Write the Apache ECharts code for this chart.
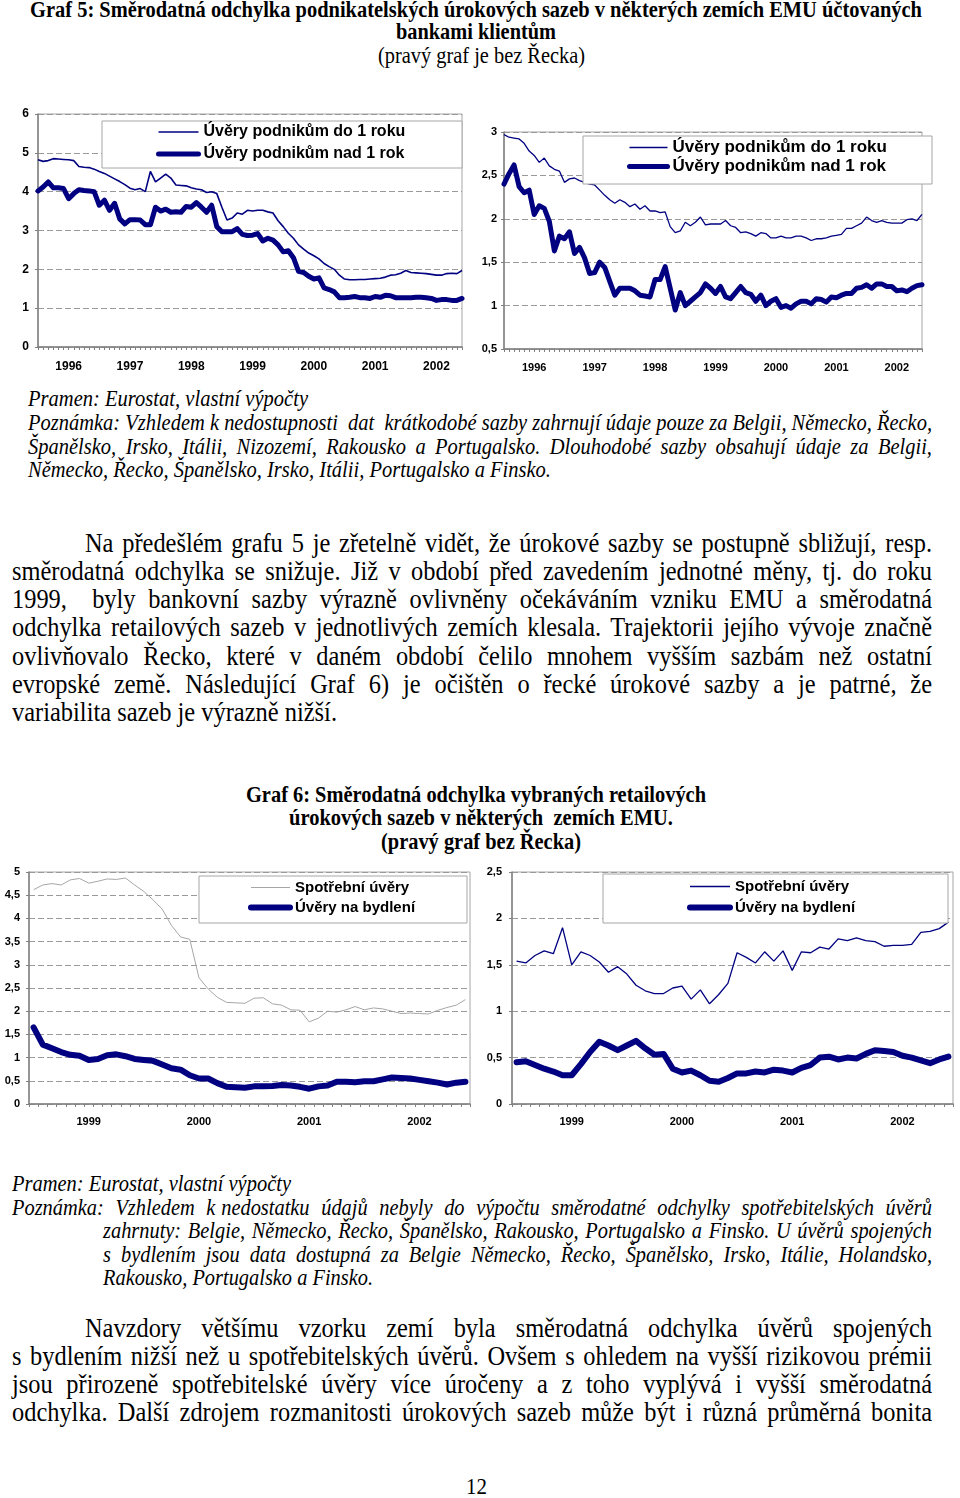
<!DOCTYPE html>
<html><head><meta charset="utf-8">
<script src="https://cdn.jsdelivr.net/npm/echarts@6/dist/echarts.min.js"></script>
<style>
html,body{margin:0;padding:0;background:#fff;}
body{width:960px;height:1498px;position:relative;overflow:hidden;font-family:"Liberation Serif","Times New Roman",serif;color:#000;}
.ln{position:absolute;white-space:nowrap;transform-origin:50% 50%;}
.ln>span{display:inline-block;white-space:nowrap;transform-origin:0 50%;}
.b{font-weight:bold;}
.i{font-style:italic;}
.chart{position:absolute;}
</style></head><body>

<div class="ln b" data-g="t5a" data-ref="1" data-x="30" data-y="9" data-w="892" data-s="19"><span>Graf 5: Směrodatná odchylka podnikatelských úrokových sazeb v některých zemích EMU účtovaných</span></div>
<div class="ln b" data-g="t5a" data-ref="1" data-x="396" data-y="31" data-w="160" data-s="19"><span>bankami klientům</span></div>
<div class="ln" data-g="t5b" data-ref="1" data-x="378" data-y="55" data-w="207" data-s="19"><span>(pravý graf je bez Řecka)</span></div>

<div class="ln i" data-g="n1" data-ref="1" data-x="28" data-y="398" data-w="280" data-s="18"><span>Pramen: Eurostat, vlastní výpočty</span></div>
<div class="ln i j" data-g="n1" data-x="28" data-y="422" data-w="904" data-s="18"><span>Poznámka: Vzhledem k nedostupnosti&nbsp; dat&nbsp; krátkodobé sazby zahrnují údaje pouze za Belgii, Německo, Řecko,</span></div>
<div class="ln i j" data-g="n1" data-x="28" data-y="446" data-w="904" data-s="18"><span>Španělsko, Irsko, Itálii, Nizozemí, Rakousko a Portugalsko. Dlouhodobé sazby obsahují údaje za Belgii,</span></div>
<div class="ln i" data-g="n1" data-ref="1" data-x="28" data-y="469" data-w="523" data-s="18"><span>Německo, Řecko, Španělsko, Irsko, Itálii, Portugalsko a Finsko.</span></div>

<div class="ln j" data-g="p1" data-x="85" data-y="543" data-w="847" data-s="20"><span>Na předešlém grafu 5 je zřetelně vidět, že úrokové sazby se postupně sbližují, resp.</span></div>
<div class="ln j" data-g="p1" data-x="12" data-y="571" data-w="920" data-s="20"><span>směrodatná odchylka se snižuje. Již v období před zavedením jednotné měny, tj. do roku</span></div>
<div class="ln j" data-g="p1" data-x="12" data-y="599" data-w="920" data-s="20"><span>1999,&nbsp; byly bankovní sazby výrazně ovlivněny očekáváním vzniku EMU a směrodatná</span></div>
<div class="ln j" data-g="p1" data-x="12" data-y="627" data-w="920" data-s="20"><span>odchylka retailových sazeb v jednotlivých zemích klesala. Trajektorii jejího vývoje značně</span></div>
<div class="ln j" data-g="p1" data-x="12" data-y="656" data-w="920" data-s="20"><span>ovlivňovalo Řecko, které v daném období čelilo mnohem vyšším sazbám než ostatní</span></div>
<div class="ln j" data-g="p1" data-x="12" data-y="684" data-w="920" data-s="20"><span>evropské země. Následující Graf 6) je očištěn o řecké úrokové sazby a je patrné, že</span></div>
<div class="ln" data-g="p1" data-ref="1" data-x="12" data-y="712" data-w="325" data-s="20"><span>variabilita sazeb je výrazně nižší.</span></div>

<div class="ln b" data-g="t6" data-ref="1" data-x="246" data-y="794" data-w="460" data-s="19"><span>Graf 6: Směrodatná odchylka vybraných retailových</span></div>
<div class="ln b" data-g="t6" data-ref="1" data-x="289" data-y="817" data-w="384" data-s="19"><span>úrokových sazeb v některých&nbsp; zemích EMU.</span></div>
<div class="ln b" data-g="t6" data-ref="1" data-x="381" data-y="841" data-w="200" data-s="19"><span>(pravý graf bez Řecka)</span></div>

<div class="ln i" data-g="n2" data-ref="1" data-x="12" data-y="1183" data-w="279" data-s="18"><span>Pramen: Eurostat, vlastní výpočty</span></div>
<div class="ln i j" data-g="n2" data-x="12" data-y="1207" data-w="920" data-s="18"><span>Poznámka:&nbsp; Vzhledem&nbsp; k nedostatku&nbsp; údajů&nbsp; nebyly&nbsp; do&nbsp; výpočtu&nbsp; směrodatné&nbsp; odchylky&nbsp; spotřebitelských&nbsp; úvěrů</span></div>
<div class="ln i j" data-g="n2" data-x="103" data-y="1230" data-w="829" data-s="18"><span>zahrnuty: Belgie, Německo, Řecko, Španělsko, Rakousko, Portugalsko a Finsko. U úvěrů spojených</span></div>
<div class="ln i j" data-g="n2" data-x="103" data-y="1254" data-w="829" data-s="18"><span>s bydlením jsou data dostupná za Belgie Německo, Řecko, Španělsko, Irsko, Itálie, Holandsko,</span></div>
<div class="ln i" data-g="n2" data-ref="1" data-x="103" data-y="1277" data-w="270" data-s="18"><span>Rakousko, Portugalsko a Finsko.</span></div>

<div class="ln j" data-g="p2" data-alt="p1" data-x="85" data-y="1328" data-w="847" data-s="20"><span>Navzdory většímu vzorku zemí byla směrodatná odchylka úvěrů spojených</span></div>
<div class="ln j" data-g="p2" data-alt="p1" data-x="12" data-y="1356" data-w="920" data-s="20"><span>s bydlením nižší než u spotřebitelských úvěrů. Ovšem s ohledem na vyšší rizikovou prémii</span></div>
<div class="ln j" data-g="p2" data-alt="p1" data-x="12" data-y="1384" data-w="920" data-s="20"><span>jsou přirozeně spotřebitelské úvěry více úročeny a z toho vyplývá i vyšší směrodatná</span></div>
<div class="ln j" data-g="p2" data-alt="p1" data-x="12" data-y="1412" data-w="920" data-s="20"><span>odchylka. Další zdrojem rozmanitosti úrokových sazeb může být i různá průměrná bonita</span></div>

<div class="ln" data-g="pg" data-ref="1" data-x="466" data-y="1486" data-w="21" data-s="20"><span>12</span></div>

<div id="c1" class="chart" style="left:0px;top:100px;width:475px;height:285px;"></div>
<div id="c2" class="chart" style="left:470px;top:120px;width:490px;height:265px;"></div>
<div id="c3" class="chart" style="left:0px;top:860px;width:480px;height:275px;"></div>
<div id="c4" class="chart" style="left:480px;top:860px;width:480px;height:275px;"></div>

<script>
// ---------- data ----------
const yearsA = ['1996','1997','1998','1999','2000','2001','2002'];
const yearsB = ['1999','2000','2001','2002'];

// Graf 5 left (all countries)
const g5L_short = [4.82,4.78,4.80,4.85,4.84,4.83,4.82,4.80,4.65,4.63,4.62,4.58,
 4.52,4.47,4.40,4.33,4.26,4.18,4.09,4.05,4.08,4.00,4.52,4.25,
 4.35,4.45,4.35,4.17,4.16,4.15,4.10,4.07,4.05,3.98,4.00,3.95,
 3.60,3.27,3.32,3.45,3.42,3.52,3.50,3.52,3.52,3.48,3.45,3.25,
 3.10,2.93,2.80,2.63,2.52,2.42,2.35,2.27,2.15,2.07,2.00,1.85,
 1.75,1.73,1.73,1.74,1.74,1.75,1.76,1.77,1.80,1.85,1.86,1.90,
 1.97,1.92,1.91,1.90,1.89,1.87,1.85,1.85,1.89,1.90,1.89,1.97];
const g5L_long = [4.02,4.12,4.25,4.10,4.10,4.08,3.82,3.95,4.05,4.03,4.02,4.00,
 3.65,3.78,3.52,3.70,3.30,3.17,3.28,3.28,3.27,3.15,3.15,3.60,
 3.50,3.55,3.47,3.48,3.47,3.62,3.60,3.72,3.60,3.47,3.65,3.10,
 2.97,2.97,2.97,3.05,2.90,2.87,2.88,2.92,2.73,2.80,2.75,2.63,
 2.45,2.48,2.30,1.95,1.92,1.82,1.75,1.78,1.52,1.48,1.42,1.27,
 1.27,1.28,1.30,1.27,1.27,1.25,1.30,1.28,1.33,1.32,1.27,1.27,
 1.27,1.27,1.28,1.28,1.27,1.25,1.20,1.22,1.22,1.20,1.20,1.25];

// Graf 5 right (without Greece)
const g5R_short = [2.97,2.94,2.93,2.92,2.87,2.78,2.73,2.65,2.70,2.61,2.57,2.55,
 2.42,2.46,2.47,2.44,2.42,2.40,2.39,2.33,2.27,2.22,2.18,2.22,
 2.19,2.14,2.17,2.11,2.15,2.09,2.09,2.07,2.08,1.91,1.84,1.86,
 1.96,1.92,1.96,2.02,1.93,1.94,1.94,1.94,1.98,1.92,1.90,1.84,
 1.85,1.83,1.80,1.84,1.83,1.78,1.78,1.80,1.78,1.78,1.80,1.80,
 1.78,1.75,1.77,1.77,1.78,1.80,1.81,1.82,1.89,1.89,1.92,1.95,
 2.02,1.98,1.96,1.98,1.96,1.95,1.95,1.95,1.99,2.00,1.98,2.05];
const g5R_long = [2.40,2.52,2.62,2.37,2.30,2.33,2.05,2.15,2.12,1.97,1.63,1.80,
 1.77,1.85,1.60,1.67,1.55,1.37,1.38,1.50,1.44,1.28,1.12,1.20,
 1.20,1.20,1.17,1.12,1.11,1.10,1.30,1.30,1.45,1.20,0.95,1.15,
 1.00,1.05,1.10,1.15,1.25,1.20,1.14,1.22,1.10,1.08,1.15,1.22,
 1.15,1.13,1.05,1.12,1.00,1.05,1.08,0.98,1.00,0.97,1.02,1.05,
 1.05,1.02,1.08,1.07,1.04,1.10,1.09,1.12,1.14,1.14,1.20,1.21,
 1.24,1.20,1.25,1.25,1.22,1.22,1.17,1.18,1.16,1.20,1.23,1.24];

// Graf 6 left
const g6L_cons = [4.62,4.72,4.75,4.72,4.83,4.86,4.76,4.80,4.85,4.84,4.87,4.72,
 4.58,4.40,4.20,3.85,3.60,3.55,2.72,2.48,2.30,2.19,2.18,2.17,
 2.28,2.29,2.16,2.13,2.03,2.02,1.77,1.85,2.00,1.98,2.03,2.10,
 2.03,2.07,2.05,2.00,1.95,1.96,1.95,1.94,2.02,2.08,2.13,2.25];
const g6L_house = [1.65,1.28,1.20,1.12,1.06,1.04,0.95,0.97,1.05,1.07,1.03,0.97,
 0.95,0.93,0.85,0.77,0.74,0.62,0.55,0.55,0.45,0.37,0.36,0.35,
 0.38,0.38,0.39,0.41,0.40,0.37,0.33,0.38,0.40,0.48,0.48,0.47,
 0.49,0.49,0.53,0.57,0.56,0.55,0.52,0.49,0.46,0.42,0.46,0.48];

// Graf 6 right (without Greece)
const g6R_cons = [1.54,1.52,1.60,1.65,1.62,1.90,1.50,1.64,1.60,1.53,1.42,1.48,
 1.40,1.28,1.22,1.19,1.19,1.25,1.27,1.13,1.23,1.08,1.18,1.30,
 1.63,1.58,1.52,1.64,1.54,1.65,1.44,1.64,1.63,1.69,1.67,1.78,
 1.76,1.79,1.76,1.75,1.70,1.71,1.71,1.72,1.85,1.86,1.89,1.96];
const g6R_house = [0.45,0.46,0.42,0.38,0.35,0.31,0.31,0.43,0.56,0.67,0.63,0.58,
 0.63,0.68,0.60,0.53,0.54,0.38,0.34,0.36,0.31,0.25,0.24,0.28,
 0.33,0.33,0.35,0.34,0.37,0.36,0.34,0.39,0.42,0.50,0.51,0.48,
 0.50,0.49,0.54,0.58,0.57,0.56,0.52,0.50,0.47,0.44,0.48,0.51];

const nameShort = 'Úvěry podnikům do 1 roku';
const nameLong = 'Úvěry podnikům nad 1 rok';
const nameCons = 'Spotřební úvěry';
const nameHouse = 'Úvěry na bydlení';

function months(years){
  const out=[];
  years.forEach(y=>{for(let m=1;m<=12;m++){out.push(y+'-'+(m<10?'0':'')+m);}});
  return out;
}
const catsA = months(yearsA);
const catsB = months(yearsB);

// ---------- text placement ----------
const VSTRETCH = 1.1;
function setup(el,s){
  const x=+el.dataset.x, y=+el.dataset.y, w=+el.dataset.w;
  const lh=Math.round(s*1.15);
  const sp=el.firstElementChild;
  sp.style.transform='none'; sp.style.display='inline-block'; sp.style.whiteSpace='nowrap';
  el.style.whiteSpace='nowrap'; el.style.textAlign='left'; el.style.textAlignLast='auto';
  el.style.left=x+'px'; el.style.width=w+'px';
  el.style.fontSize=s+'px'; el.style.lineHeight=lh+'px'; el.style.height=lh+'px';
  el.style.top=(y-lh/2)+'px';
  el.style.transform='scaleY('+VSTRETCH+')';
}
function fit(el){
  const w=+el.dataset.w; const sp=el.firstElementChild;
  const w0=sp.getBoundingClientRect().width;
  if(el.classList.contains('j') && w0<=w){
    sp.style.display='inline'; sp.style.whiteSpace='normal';
    el.style.whiteSpace='normal';
    el.style.textAlign='justify'; el.style.textAlignLast='justify';
  } else {
    sp.style.transform='scaleX('+(w/w0)+')';
  }
}
function placeText(){
  const els=[...document.querySelectorAll('.ln')];
  els.forEach(el=>setup(el,+el.dataset.s));
  const ratios={};
  els.forEach(el=>{
    if(el.dataset.ref){
      const w0=el.firstElementChild.getBoundingClientRect().width;
      (ratios[el.dataset.g]=ratios[el.dataset.g]||[]).push(+el.dataset.w/w0);
    }
  });
  els.forEach(el=>{
    const rs=ratios[el.dataset.g]||ratios[el.dataset.alt];
    let s=+el.dataset.s;
    if(rs){ s=s*rs.reduce((a,b)=>a+b,0)/rs.length; }
    s=Math.round(s*10)/10;
    setup(el,s); fit(el);
  });
}

// ---------- charts ----------
const NAVY='#000080';
const FONT='"Liberation Sans", Arial, sans-serif';
function build(id,o){
  const chart=echarts.init(document.getElementById(id),null,{renderer:'canvas'});
  const labIdx=o.labIdx;
  chart.setOption({
    animation:false,
    grid:{left:o.grid[0],top:o.grid[1],width:o.grid[2],height:o.grid[3],show:true,borderColor:'#a6a6a6',borderWidth:1},
    xAxis:{type:'category',data:o.cats,boundaryGap:o.bg,
      axisLine:{lineStyle:{color:'#808080',width:1.5}},
      axisTick:{show:true,interval:0,length:3,lineStyle:{color:'#808080',width:1}},
      axisLabel:{interval:(i)=>i%12===labIdx,formatter:(v)=>v.slice(0,4),
        fontFamily:FONT,fontWeight:'bold',fontSize:o.xfs,color:'#000',margin:o.xm},
      splitLine:{show:false}},
    yAxis:{type:'value',min:o.ymin,max:o.ymax,interval:o.yint,
      axisLine:{show:true,lineStyle:{color:'#808080',width:1.5}},
      axisTick:{show:true,length:3,lineStyle:{color:'#808080'}},
      axisLabel:{formatter:(v)=>String(v).replace('.',','),fontFamily:FONT,fontWeight:'bold',fontSize:o.yfs,color:'#000',margin:o.ym},
      splitLine:{show:true,lineStyle:{type:[6,3],color:'#9a9a9a',width:1}}},
    graphic:[{type:'rect',z:50,shape:{x:o.box[0],y:o.box[1],width:o.box[2],height:o.box[3]},
      style:{fill:'#fff',stroke:'#a6a6a6',lineWidth:1}}],
    legend:{orient:'vertical',left:o.leg[0],top:o.leg[1],itemWidth:o.leg[2],itemHeight:18,itemGap:o.leg[3],
      padding:0,z:60,selectedMode:false,itemStyle:{opacity:0},
      data:[{name:o.n1,lineStyle:{width:o.w1,color:o.c1}},
            {name:o.n2,lineStyle:{width:o.w2,color:NAVY,cap:'round'}}],
      textStyle:{fontFamily:FONT,fontWeight:'bold',fontSize:o.lfs,color:'#000'}},
    series:[
      {name:o.n1,type:'line',data:o.d1,symbol:'none',showSymbol:false,z:3,
        lineStyle:{color:o.c1,width:o.w1},itemStyle:{color:o.c1}},
      {name:o.n2,type:'line',data:o.d2,symbol:'none',showSymbol:false,z:4,
        lineStyle:{color:NAVY,width:o.w2,join:'round',cap:'round'},itemStyle:{color:NAVY}}
    ]
  });
}

build('c1',{cats:catsA,bg:false,labIdx:6,grid:[38,14,424,233],ymin:0,ymax:6,yint:1,
  xfs:12,yfs:12,xm:14,ym:9,box:[102,21,360,47],leg:[156,24,40,6],lfs:16,
  n1:nameShort,d1:g5L_short,c1:NAVY,w1:1.6,n2:nameLong,d2:g5L_long,w2:5});
build('c2',{cats:catsA,bg:false,labIdx:6,grid:[34,12,418,217],ymin:0.5,ymax:3,yint:0.5,
  xfs:11,yfs:11,xm:13,ym:7,box:[113,16,349,48],leg:[157,19,38,2],lfs:17,
  n1:nameShort,d1:g5R_short,c1:NAVY,w1:1.3,n2:nameLong,d2:g5R_long,w2:5});
build('c3',{cats:catsB,bg:true,labIdx:6,grid:[29,12,441,232],ymin:0,ymax:5,yint:0.5,
  xfs:11,yfs:11,xm:12,ym:9,box:[199,16,268,47],leg:[248,20,39,5],lfs:15,
  n1:nameCons,d1:g6L_cons,c1:'#a6a6a6',w1:1,n2:nameHouse,d2:g6L_house,w2:6});
build('c4',{cats:catsB,bg:true,labIdx:6,grid:[32,12,441,232],ymin:0,ymax:2.5,yint:0.5,
  xfs:11,yfs:11,xm:12,ym:10,box:[123,14,345,49],leg:[207,19,40,6],lfs:15,
  n1:nameCons,d1:g6R_cons,c1:NAVY,w1:1.3,n2:nameHouse,d2:g6R_house,w2:6});

placeText();
if(document.fonts&&document.fonts.ready){document.fonts.ready.then(placeText);}
</script>
</body></html>
